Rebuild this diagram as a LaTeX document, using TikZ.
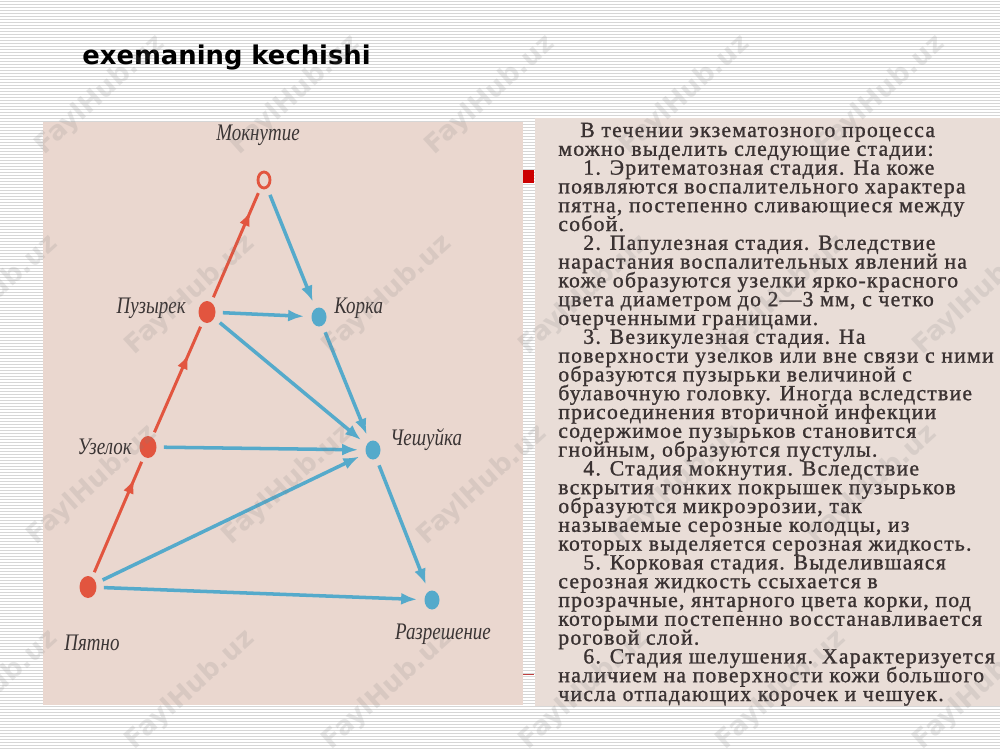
\documentclass[tikz,border=0pt]{standalone}
\usepackage{fontspec}
\setmainfont{Liberation Serif}
\newfontfamily\bodyfont[LetterSpace=6,FakeBold=1.2]{Liberation Serif}
\newfontfamily\labfont{Liberation Serif}
\newfontfamily\titlefont{DejaVu Sans}
\usetikzlibrary{shapes.geometric,arrows.meta,decorations.markings}
\definecolor{redc}{HTML}{E2553F}
\definecolor{bluec}{HTML}{55AACB}
\definecolor{panelL}{HTML}{EAD7CF}
\definecolor{panelR}{HTML}{E9DDD7}
\definecolor{textc}{HTML}{3A3232}
\definecolor{labc}{HTML}{3A3434}
\definecolor{stripe}{HTML}{D6D6D6}
\definecolor{bullet}{HTML}{CC0000}
\tikzset{
  rdot/.style={ellipse, fill=redc, minimum width=0.34cm, minimum height=0.44cm, inner sep=0pt},
  bdot/.style={ellipse, fill=bluec, minimum width=0.3cm, minimum height=0.38cm, inner sep=0pt},
  ringdot/.style={ellipse, draw=redc, fill=panelL, line width=1.6pt, minimum width=0.24cm, minimum height=0.32cm, inner sep=0pt},
  lab/.style={font=\labfont\itshape\fontsize{13.5}{13.5}\selectfont, text=labc, inner sep=0pt},
  barrow/.style={draw=bluec, line width=2pt, -{Latex[length=0.32cm,width=0.24cm]}, shorten <=4pt, shorten >=4pt},
  rarrow/.style={color=redc, line width=1.7pt, shorten <=3pt, shorten >=3pt, postaction={decorate},
     decoration={markings, mark=at position #1 with {\arrow{Latex[length=0.3cm,width=0.22cm]}}}},
  rarrow/.default=0.8,
  bodyline/.style={anchor=base west, font=\bodyfont\fontsize{12.3}{12.3}\selectfont, text=textc, inner sep=0pt},
  wm/.style={font=\titlefont\bfseries\fontsize{15}{15}\selectfont, text=gray, opacity=0.17, rotate=42},
}
\begin{document}
\begin{tikzpicture}[x=0.02cm,y=-0.02cm]
\useasboundingbox (0,0) rectangle (1000,750);
\fill[white] (0,0) rectangle (1000,750);
% striped background
\foreach \yy in {1,4,...,750} {\draw[stripe, line width=0.35pt] (0,\yy) -- (1000,\yy);}
% title
\node[anchor=base west, font=\titlefont\bfseries\fontsize{14.7}{14.7}\selectfont, inner sep=0pt] (title) at (82,65) {exemaning kechishi};
% panels
\fill[panelL] (43,122) rectangle (523,705);
\fill[panelR] (535,118) rectangle (1000,706);
\fill[bullet] (523,170) rectangle (534,183);
\draw[color=red!50!gray, line width=0.8pt] (523,674.5) -- (534,674.5);
% diagram nodes
\node[ringdot] (mok) at (264,180) {};
\node[rdot] (puz) at (207,312) {};
\node[bdot] (kor) at (319,317) {};
\node[rdot] (uzl) at (148,447) {};
\node[bdot] (ches) at (373,450) {};
\node[rdot] (pyat) at (88,587) {};
\node[bdot] (raz) at (432,600) {};
% labels
\node[lab] (lmok) at (258,135) {\scalebox{0.8}[1]{Мокнутие}};
\node[lab, anchor=east] (lpuz) at (186,308) {\scalebox{0.8}[1]{Пузырек}};
\node[lab, anchor=west] (lkor) at (334,308) {\scalebox{0.8}[1]{Корка}};
\node[lab, anchor=east] (luzl) at (132,447) {\scalebox{0.8}[1]{Узелок}};
\node[lab, anchor=west] (lches) at (390,440) {\scalebox{0.8}[1]{Чешуйка}};
\node[lab] (lpyat) at (92,643) {\scalebox{0.8}[1]{Пятно}};
\node[lab] (lraz) at (443,634) {\scalebox{0.8}[1]{Разрешение}};
% red arrows
\draw[rarrow=0.82] (pyat) -- (uzl);
\draw[rarrow=0.72] (uzl) -- (puz);
\draw[rarrow=0.8] (puz) -- (mok);
% blue arrows
\draw[barrow] (mok) -- (kor);
\draw[barrow] (puz) -- (kor);
\draw[barrow] (puz) -- (ches);
\draw[barrow] (kor) -- (ches);
\draw[barrow] (uzl) -- (ches);
\draw[barrow] (pyat) -- (ches);
\draw[barrow] (pyat) -- (raz);
\draw[barrow] (ches) -- (raz);
% body text
\node[bodyline] (t1) at (580,137) {В течении экзематозного процесса};
\node[bodyline] (t2) at (558,155.8) {можно выделить следующие стадии:};
\node[bodyline] (t3) at (583,174.6) {1. Эритематозная стадия. На коже};
\node[bodyline] (t4) at (558,193.4) {появляются воспалительного характера};
\node[bodyline] (t5) at (558,212.2) {пятна, постепенно сливающиеся между};
\node[bodyline] (t6) at (558,231) {собой.};
\node[bodyline] (t7) at (583,249.8) {2. Папулезная стадия. Вследствие};
\node[bodyline] (t8) at (558,268.6) {нарастания воспалительных явлений на};
\node[bodyline] (t9) at (558,287.4) {коже образуются узелки ярко-красного};
\node[bodyline] (t10) at (558,306.2) {цвета диаметром до 2—3 мм, с четко};
\node[bodyline] (t11) at (558,325) {очерченными границами.};
\node[bodyline] (t12) at (583,343.8) {3. Везикулезная стадия. На};
\node[bodyline] (t13) at (558,362.6) {поверхности узелков или вне связи с ними};
\node[bodyline] (t14) at (558,381.4) {образуются пузырьки величиной с};
\node[bodyline] (t15) at (558,400.2) {булавочную головку. Иногда вследствие};
\node[bodyline] (t16) at (558,419) {присоединения вторичной инфекции};
\node[bodyline] (t17) at (558,437.8) {содержимое пузырьков становится};
\node[bodyline] (t18) at (558,456.6) {гнойным, образуются пустулы.};
\node[bodyline] (t19) at (583,475.4) {4. Стадия мокнутия. Вследствие};
\node[bodyline] (t20) at (558,494.2) {вскрытия тонких покрышек пузырьков};
\node[bodyline] (t21) at (558,513) {образуются микроэрозии, так};
\node[bodyline] (t22) at (558,531.8) {называемые серозные колодцы, из};
\node[bodyline] (t23) at (558,550.6) {которых выделяется серозная жидкость.};
\node[bodyline] (t24) at (583,569.4) {5. Корковая стадия. Выделившаяся};
\node[bodyline] (t25) at (558,588.2) {серозная жидкость ссыхается в};
\node[bodyline] (t26) at (558,607) {прозрачные, янтарного цвета корки, под};
\node[bodyline] (t27) at (558,625.8) {которыми постепенно восстанавливается};
\node[bodyline] (t28) at (558,644.6) {роговой слой.};
\node[bodyline] (t29) at (583,663.4) {6. Стадия шелушения. Характеризуется};
\node[bodyline] (t30) at (558,682.2) {наличием на поверхности кожи большого};
\node[bodyline] (t31) at (558,701) {числа отпадающих корочек и чешуек.};
% watermarks
\foreach \wx/\wy in {100/95,295/95,490/95,685/95,880/95,
  -7/295,190/295,387/295,584/295,781/295,978/295,
  92/485,287/485,482/485,677/485,872/485,
  -7/690,190/690,387/690,584/690,781/690,978/690}
  {\node[wm] at (\wx,\wy) {FaylHub.uz};}
\end{tikzpicture}
\end{document}
